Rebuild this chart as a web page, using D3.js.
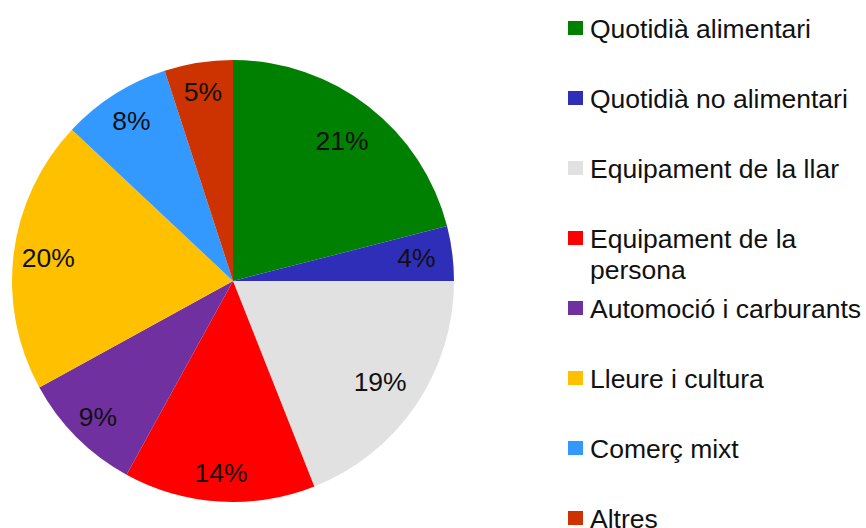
<!DOCTYPE html>
<html>
<head>
<meta charset="utf-8">
<script src="https://cdn.jsdelivr.net/npm/d3@7"></script>
<style>
  body { margin: 0; background: #fff; }
  text { font-family: "Liberation Sans", Arial, sans-serif; fill: #111; }
</style>
</head>
<body>
<div id="chart"></div>
<script>
"use strict";

// categories, shares (%) and slice colours, clockwise from the top
const categories = [
  "Quotidià alimentari",
  "Quotidià no alimentari",
  "Equipament de la llar",
  "Equipament de la persona",
  "Automoció i carburants",
  "Lleure i cultura",
  "Comerç mixt",
  "Altres"
];
const shares = [21, 4, 19, 14, 9, 20, 8, 5];
const colors = ["#008000", "#2e2eb8", "#e1e1e1", "#ff0000", "#7030a0", "#ffc000", "#3399ff", "#cc3300"];

// legend lines (wrapped the way the original shows them)
const legendLines = [
  ["Quotidià alimentari"],
  ["Quotidià no alimentari"],
  ["Equipament de la llar"],
  ["Equipament de la", "persona"],
  ["Automoció i carburants"],
  ["Lleure i cultura"],
  ["Comerç mixt"],
  ["Altres"]
];

// where each % label sits along its slice's middle ray, as a fraction of the radius
const labelRadius = [0.805, 0.837, 0.805, 0.868, 0.864, 0.842, 0.858, 0.868];

const width = 866, height = 528;
const cx = 233, cy = 281, radius = 221;

const svg = d3.select("#chart")
  .append("svg")
    .attr("width", width)
    .attr("height", height);

const data = categories.map((c, i) => ({ name: c, value: shares[i], color: colors[i], lr: labelRadius[i] }));

const pie = d3.pie()
  .value(d => d.value)
  .sort(null);

const arc = d3.arc()
  .innerRadius(0)
  .outerRadius(radius);

const g = svg.append("g")
  .attr("transform", "translate(" + cx + "," + cy + ")");

const arcs = pie(data);

g.selectAll("path")
  .data(arcs)
  .join("path")
    .attr("d", arc)
    .attr("fill", d => d.data.color);

g.selectAll("text.pct")
  .data(arcs)
  .join("text")
    .attr("class", "pct")
    .attr("transform", d => {
      const r = radius * d.data.lr;
      const c = d3.arc().innerRadius(r).outerRadius(r).centroid(d);
      return "translate(" + c + ")";
    })
    .attr("text-anchor", "middle")
    .attr("dy", "0.36em")
    .style("font-size", "26.5px")
    .text(d => d.data.value + "%");

// legend
const legY = d3.scaleLinear()
  .domain([0, categories.length - 1])
  .range([28, 518]);

const leg = svg.append("g")
  .selectAll("g")
  .data(data)
  .join("g")
    .attr("transform", (d, i) => "translate(568," + legY(i) + ")");

leg.append("rect")
  .attr("x", 0)
  .attr("y", -7)
  .attr("width", 15)
  .attr("height", 14)
  .attr("fill", d => d.color);

leg.append("text")
  .attr("x", 22)
  .style("font-size", "26.5px")
  .selectAll("tspan")
  .data((d, i) => legendLines[i])
  .join("tspan")
    .attr("x", 22)
    .attr("dy", (d, j) => j === 0 ? "0.36em" : "1.17em")
    .text(d => d);
</script>
</body>
</html>
